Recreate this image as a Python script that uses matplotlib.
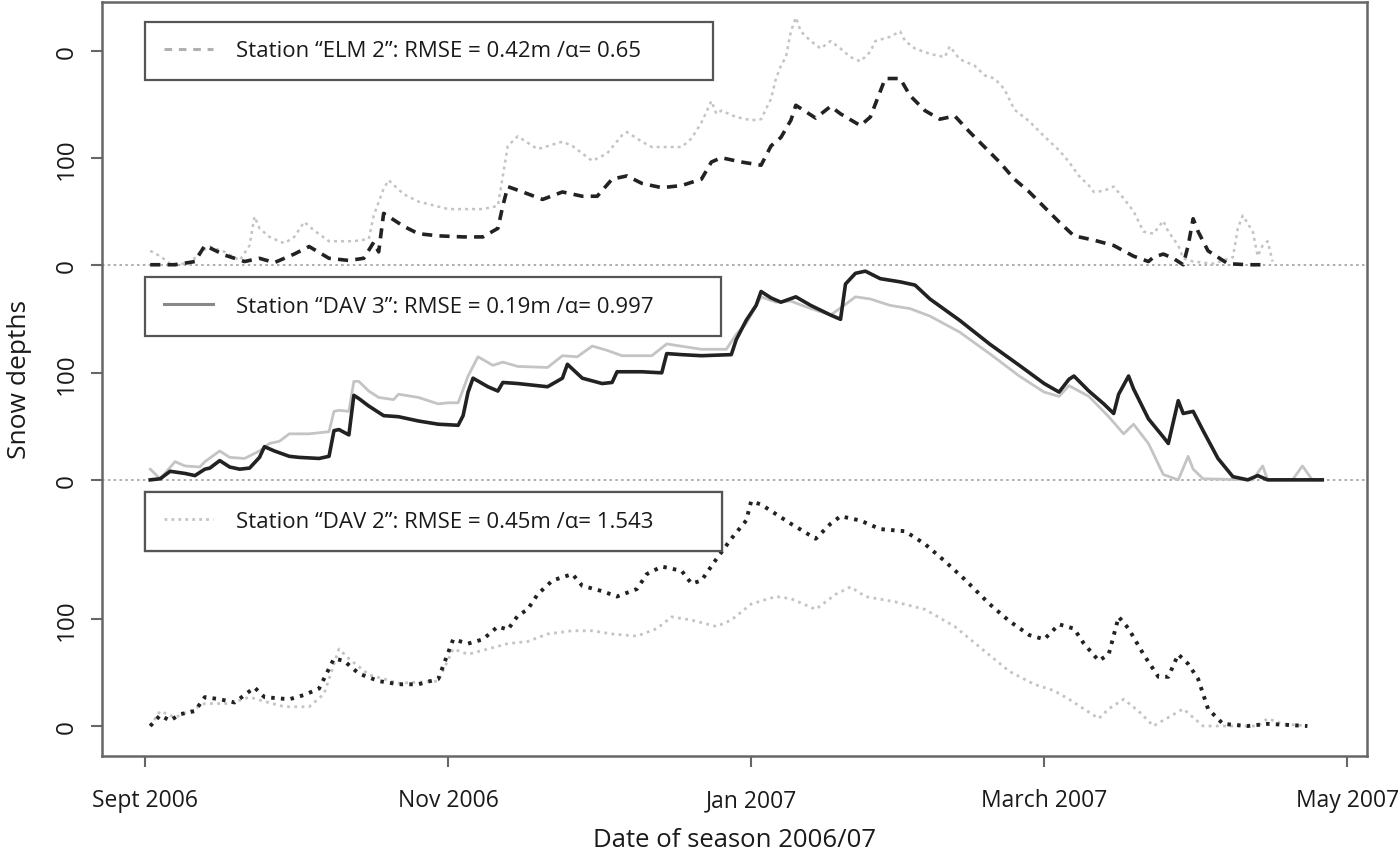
import matplotlib
matplotlib.use("Agg")
import matplotlib.pyplot as plt
import numpy as np
import pandas as pd
from matplotlib.lines import Line2D

plt.rcParams['font.family'] = ['Open Sans', 'DejaVu Sans']

season_start = pd.Timestamp('2006-09-01')

# ---------------- data (days since 2006-09-01, snow depth in cm) ----------------
elm2_model_days = [1, 6, 10, 12, 16, 20, 23, 26, 30, 33, 37, 41, 44, 46, 47, 48, 52, 55, 59, 64, 68, 71, 72, 73, 76, 80,
                   84, 88, 91, 94, 97, 100, 104, 108, 112, 114, 116, 120, 124, 126, 128, 130, 131, 135, 138, 140, 144,
                   146, 148, 149, 152, 154, 157, 160, 163, 166, 169, 172, 175, 178, 181, 184, 187, 191, 195, 199, 202,
                   203, 205, 207, 209, 210, 211, 212, 214, 218, 222, 226]
elm2_model = [0, 0, 3, 18, 9, 3, 6, 2, 10, 17, 6, 4, 6, 21, 12, 48, 36, 29, 27, 26, 26, 34, 55, 73, 68, 61,
              68, 64, 64, 80, 83, 76, 72, 74, 80, 96, 100, 96, 93, 111, 119, 135, 149, 137, 148, 141, 130,
              138, 162, 174, 174, 158, 144, 136, 139, 124, 110, 96, 80, 68, 54, 40, 27, 23, 18, 8, 3,
              7, 10, 6, 0, 18, 43, 31, 13, 1, 0, 0]

elm2_obs_days = [1, 3, 5, 9, 11, 13, 16, 19, 21, 22, 23, 25, 28, 30, 32, 34, 37, 42, 45, 46, 48, 49, 52, 55, 61, 68,
                 71, 72, 73, 75, 78, 79, 84, 86, 88, 90, 93, 96, 97, 100, 102, 108, 110, 112, 114, 115, 116, 119,
                 122, 124, 126, 127, 128, 129, 130, 131, 132, 134, 136, 138, 140, 142, 144, 146, 147, 150, 152,
                 153, 155, 158, 161, 162, 164, 167, 169, 171, 173, 175, 178, 181, 184, 186, 188, 190, 191, 193,
                 195, 197, 199, 201, 203, 205, 206, 208, 209, 211, 215, 219, 220, 221, 223, 224, 225, 226, 227]
elm2_obs = [13, 8, 1, 1, 12, 17, 12, 4, 18, 45, 34, 26, 20, 26, 40, 32, 22, 22, 24, 46, 71, 79, 66, 59, 52, 52,
            55, 83, 111, 120, 111, 108, 115, 111, 104, 97, 104, 121, 124, 115, 110, 110, 118, 133, 153, 141, 144, 138,
            135, 136, 155, 174, 186, 194, 218, 231, 218, 209, 202, 209, 202, 194, 190, 199, 209, 213, 218,
            209, 202, 197, 194, 204, 192, 186, 177, 174, 164, 145, 134, 120, 107, 96, 83, 74, 68, 69,
            73, 62, 50, 31, 29, 41, 31, 18, 6, 3, 1, 7, 34, 46, 31, 8, 18, 22, 3]

dav3_model_days = [1, 3, 5, 8, 10, 12, 13, 15, 17, 19, 21, 23, 24, 26, 29, 31, 35, 37, 38, 39, 41, 42, 43, 45, 48, 51,
                   55, 59, 63, 64, 65, 66, 69, 71, 72, 75, 77, 81, 84, 85, 88, 92, 94, 95, 100, 104, 105, 108, 112,
                   118, 119, 121, 123, 124, 126, 128, 131, 134, 138, 140, 141, 143, 145, 148, 152, 155, 158, 164,
                   170, 176, 181, 184, 186, 187, 190, 193, 195, 196, 198, 199, 202, 205, 206, 208, 209, 211, 213,
                   216, 219, 222, 224, 226, 237]
dav3_model = [0, 1, 8, 6, 4, 10, 11, 18, 12, 10, 11, 21, 31, 27, 22, 21, 20, 22, 46, 47, 42, 79, 76, 69, 60, 59,
              55, 52, 51, 60, 82, 95, 87, 83, 91, 90, 89, 87, 95, 108, 95, 90, 91, 101, 101, 100, 118, 117, 116,
              117, 131, 149, 163, 176, 170, 166, 171, 163, 154, 150, 183, 193, 195, 188, 185, 182, 169, 149,
              127, 107, 90, 82, 94, 97, 83, 71, 62, 80, 97, 85, 57, 40, 34, 74, 62, 64, 46,
              20, 3, 0, 4, 0, 0]

dav3_obs_days = [1, 3, 6, 8, 11, 12, 15, 17, 20, 23, 25, 27, 29, 33, 37, 38, 39, 41, 42, 43, 45, 47, 50, 51, 55, 59,
                 61, 63, 65, 67, 70, 72, 75, 81, 84, 87, 90, 93, 96, 102, 105, 112, 117, 119, 121, 124, 127, 130,
                 134, 138, 141, 143, 146, 150, 154, 158, 164, 170, 176, 181, 184, 186, 190, 194, 197, 199, 202,
                 205, 208, 210, 211, 213, 223, 225, 226, 231, 233, 235, 237]
dav3_obs = [10, 1, 17, 13, 12, 17, 27, 21, 20, 27, 34, 36, 43, 43, 45, 64, 65, 64, 92, 92, 83, 77, 75, 80, 77, 71,
            72, 72, 97, 115, 107, 110, 106, 105, 116, 115, 125, 121, 116, 116, 127, 122, 122, 136, 146, 171, 166, 167,
            160, 154, 164, 171, 169, 163, 160, 153, 138, 118, 97, 82, 78, 88, 78, 59, 43, 52, 34,
            5, 0, 22, 10, 1, 0, 13, 0, 0, 13, 0, 0]

dav2_model_days = [1, 3, 5, 7, 10, 12, 15, 18, 22, 24, 29, 32, 35, 38, 40, 43, 47, 51, 55, 59, 62, 65, 68, 71, 73, 75,
                   77, 79, 82, 86, 88, 92, 95, 99, 101, 104, 108, 110, 112, 115, 118, 121, 122, 124, 127, 130, 135,
                   138, 140, 144, 148, 153, 157, 161, 165, 170, 174, 178, 181, 184, 187, 189, 192, 194, 196, 198,
                   201, 204, 206, 208, 210, 212, 214, 217, 222, 226, 234]
dav2_model = [0, 10, 5, 11, 14, 27, 25, 22, 36, 27, 25, 29, 35, 63, 61, 49, 42, 39, 39, 44, 81, 77, 81, 93, 90, 103,
              109, 123, 136, 142, 131, 126, 121, 128, 142, 149, 145, 133, 136, 156, 175, 192, 210, 207, 198, 189, 175,
              189, 196, 192, 184, 182, 170, 154, 137, 114, 98, 85, 81, 95, 91, 77, 61, 67, 102, 91,
              67, 46, 46, 67, 58, 44, 16, 2, 0, 2, 0]

dav2_obs_days = [1, 3, 6, 9, 12, 17, 21, 24, 28, 33, 36, 39, 41, 45, 51, 59, 62, 65, 69, 73, 77, 81, 86, 90, 94, 99,
                 103, 106, 110, 115, 118, 122, 127, 130, 135, 139, 142, 145, 151, 157, 163, 169, 174, 179, 183, 186,
                 190, 192, 194, 197, 200, 203, 206, 209, 211, 213, 224, 226, 229, 234]
dav2_obs = [0, 14, 8, 14, 21, 21, 27, 23, 18, 18, 30, 72, 63, 48, 40, 42, 72, 67, 72, 77, 79, 86, 89, 89, 86, 84,
            91, 102, 99, 93, 99, 114, 121, 119, 109, 123, 130, 121, 116, 109, 93, 70, 51, 39, 33, 25,
            13, 7, 16, 25, 14, 0, 8, 16, 8, 0, 0, 7, 2, 0]

panel_offsets = [431, 230, 0]          # vertical offset of each station panel
ytick_pos = [0, 100, 230, 330, 431, 531, 631]
ytick_labels = ["0", "100", "0", "100", "0", "100", "0"]
xtick_dates = ['2006-09-01', '2006-11-01', '2007-01-01', '2007-03-01', '2007-05-01']
xtick_labels = ['Sept 2006', 'Nov 2006', 'Jan 2007', 'March 2007', 'May 2007']
legend_texts = ['Station \u201cELM 2\u201d: RMSE = 0.42m /\u03b1= 0.65',
                'Station \u201cDAV 3\u201d: RMSE = 0.19m /\u03b1= 0.997',
                'Station \u201cDAV 2\u201d: RMSE = 0.45m /\u03b1= 1.543']


def to_dates(days):
    return season_start + pd.to_timedelta(np.asarray(days), unit='D')


fig = plt.figure(figsize=(14, 8.54), dpi=100)
ax = fig.add_axes([0.0729, 0.1136, 0.9035, 0.8829])

dark = '#222222'
light = '#c4c4c4'
txtcol = '#1a1a1a'

# zero lines of upper panels
for off in panel_offsets[:2]:
    ax.axhline(off, color='#a0a0a0', lw=1.2, ls=(0, (1.5, 2)), zorder=1)

# top panel: ELM 2
ax.plot(to_dates(elm2_obs_days), np.array(elm2_obs) + panel_offsets[0], color=light, lw=1.8,
        ls=(0, (1.2, 1.6)), zorder=2)
ax.plot(to_dates(elm2_model_days), np.array(elm2_model) + panel_offsets[0], color=dark, lw=2.6,
        ls=(0, (2.8, 2.0)), zorder=3)

# middle panel: DAV 3
ax.plot(to_dates(dav3_obs_days), np.array(dav3_obs) + panel_offsets[1], color=light, lw=2.0, zorder=2)
ax.plot(to_dates(dav3_model_days), np.array(dav3_model) + panel_offsets[1], color=dark, lw=2.6, zorder=3)

# bottom panel: DAV 2
ax.plot(to_dates(dav2_obs_days), np.array(dav2_obs) + panel_offsets[2], color=light, lw=2.0,
        ls=(0, (1.0, 1.6)), zorder=2)
ax.plot(to_dates(dav2_model_days), np.array(dav2_model) + panel_offsets[2], color=dark, lw=2.8,
        ls=(0, (0.9, 1.6)), zorder=3)

ax.set_xlim(season_start - pd.Timedelta(days=8.7), season_start + pd.Timedelta(days=246.0))
ax.set_ylim(-28, 676.5)

ax.set_xticks(pd.to_datetime(xtick_dates))
ax.set_xticklabels(xtick_labels, fontsize=16.5, color=txtcol)
ax.set_yticks(ytick_pos)
ax.set_yticklabels(ytick_labels, fontsize=17.5, rotation=90, va='center', color=txtcol)

for s in ax.spines.values():
    s.set_color('#666666')
    s.set_linewidth(1.8)
ax.tick_params(axis='both', length=8, width=1.5, color='#666666')
ax.tick_params(axis='x', pad=15)
ax.tick_params(axis='y', pad=9)

ax.set_xlabel('Date of season 2006/07', fontsize=18.5, color=txtcol, labelpad=11)
ax.set_ylabel('Snow depths', fontsize=19, color=txtcol, labelpad=16)

# legends
handles = [Line2D([], [], color='#b0b0b0', lw=2.2, ls=(0, (2.5, 2.2))),
           Line2D([], [], color='#888888', lw=2.2),
           Line2D([], [], color='#c4c4c4', lw=2.0, ls=(0, (1, 1.5)))]
boxes = [(0.034, 0.895, 0.449, 0.080), (0.034, 0.556, 0.455, 0.081), (0.034, 0.273, 0.456, 0.077)]
for h, t, b in zip(handles, legend_texts, boxes):
    leg = ax.legend([h], [t], loc='center left', bbox_to_anchor=b, mode='expand', fontsize=16,
                    fancybox=False, framealpha=1, edgecolor='#555555', borderpad=0.85,
                    handlelength=2.2, handletextpad=1.05, borderaxespad=0)
    leg.get_frame().set_linewidth(1.6)
    for txt in leg.get_texts():
        txt.set_color(txtcol)
    ax.add_artist(leg)

fig.savefig('out.png', dpi=100)
